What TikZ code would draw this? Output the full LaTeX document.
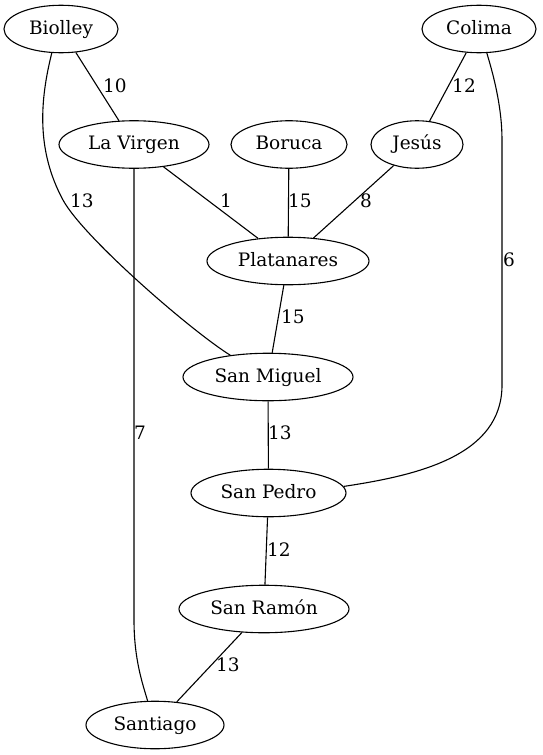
\documentclass[tikz,border=0pt]{standalone}
\usepackage{fontspec}
\setmainfont{DejaVu Serif}
\usetikzlibrary{shapes.geometric}
\tikzset{
  town/.style={draw, ellipse, inner sep=0pt, minimum height=47.5pt, line width=1.1pt, text height=14pt, text depth=3.4pt},
  lbl/.style={inner sep=0pt},
  edge/.style={line width=1.1pt}
}
\begin{document}
\begin{tikzpicture}[x=1pt,y=-1pt,font=\fontsize{18.5}{22}\selectfont]
\useasboundingbox (0,0) rectangle (542,755);
% nodes
\node[town, minimum width=114pt] (biolley) at (61,29) {Biolley};
\node[town, minimum width=114pt] (colima) at (479,29) {Colima};
\node[town, minimum width=150pt] (lavirgen) at (134,144.5) {La Virgen};
\node[town, minimum width=116pt] (boruca) at (289,144.5) {Boruca};
\node[town, minimum width=92pt] (jesus) at (417,144.5) {Jesús};
\node[town, minimum width=162pt] (platanares) at (288,261) {Platanares};
\node[town, minimum width=170pt] (sanmiguel) at (268,377) {San Miguel};
\node[town, minimum width=155pt] (sanpedro) at (268.5,493) {San Pedro};
\node[town, minimum width=170pt] (sanramon) at (264,609) {San Ramón};
\node[town, minimum width=138pt] (santiago) at (155,725) {Santiago};
% edges
\draw[edge] (biolley) -- (lavirgen);
\draw[edge] (biolley.249) .. controls (40,100) and (36,150) .. (63,200)
  .. controls (83,237) and (190,330) .. (sanmiguel.150);
\draw[edge] (lavirgen) -- (platanares);
\draw[edge] (lavirgen.south) -- (134,620) .. controls (134,660) and (143,685) .. (santiago.107);
\draw[edge] (boruca) -- (platanares);
\draw[edge] (jesus) -- (platanares);
\draw[edge] (colima) -- (jesus);
\draw[edge] (colima.288) .. controls (495,80) and (502,110) .. (502,140)
  -- (502,385) .. controls (502,455) and (420,475) .. (sanpedro.5);
\draw[edge] (platanares) -- (sanmiguel);
\draw[edge] (sanmiguel) -- (sanpedro);
\draw[edge] (sanpedro) -- (sanramon);
\draw[edge] (sanramon) -- (santiago);
% labels
\node[lbl] (l1) at (115,85.5) {10};
\node[lbl] (l2) at (82,201) {13};
\node[lbl] (l3) at (226,201) {1};
\node[lbl] (l4) at (300,201) {15};
\node[lbl] (l5) at (366,201) {8};
\node[lbl] (l6) at (464,85.5) {12};
\node[lbl] (l7) at (509,260) {6};
\node[lbl] (l8) at (293,317) {15};
\node[lbl] (l9) at (140,433) {7};
\node[lbl] (l10) at (280,433) {13};
\node[lbl] (l11) at (279,550) {12};
\node[lbl] (l12) at (228,665) {13};
\end{tikzpicture}
\end{document}
